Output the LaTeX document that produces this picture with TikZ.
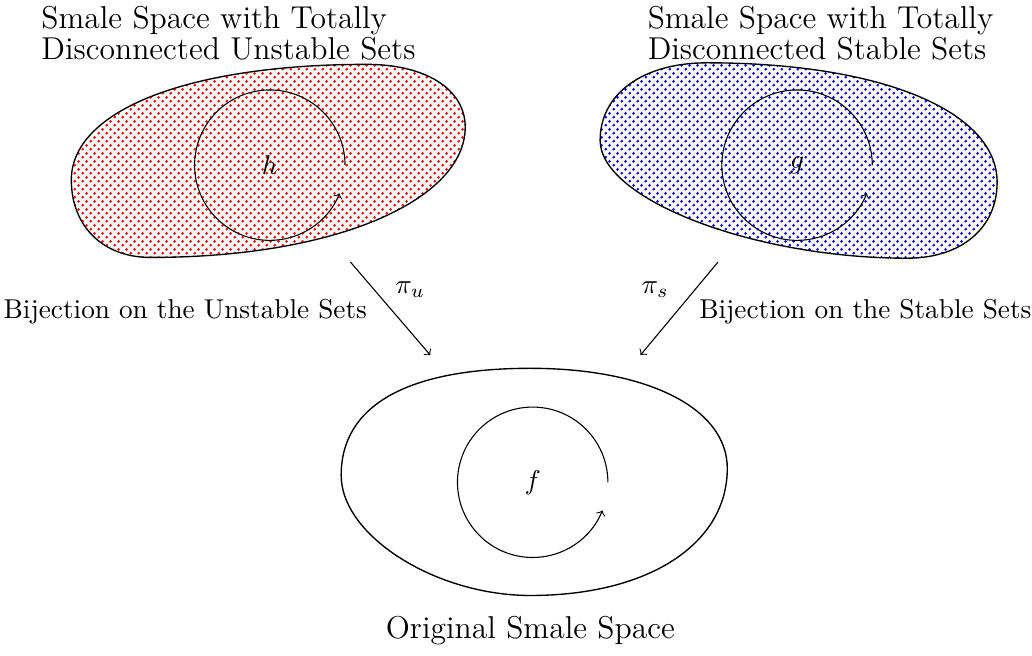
\documentclass[tikz,border=0pt]{standalone}
\usepackage{tikz}
\usetikzlibrary{patterns}
\usepackage{xcolor}

% staggered dots, a bit heavier than crosshatch dots
\pgfdeclarepatternformonly{fatdots}{\pgfqpoint{0pt}{0pt}}{\pgfqpoint{3pt}{3pt}}{\pgfqpoint{3pt}{3pt}}{
  \pgfpathcircle{\pgfqpoint{0.75pt}{0.75pt}}{0.6pt}
  \pgfpathcircle{\pgfqpoint{2.25pt}{2.25pt}}{0.6pt}
  \pgfusepath{fill}
}

\begin{document}
\begin{tikzpicture}
            \tikzstyle{space} = [draw, line width=0.5pt]
            \tikzstyle{title} = [align=left, font=\fontsize{11.6}{11.6}\selectfont]
            \tikzstyle{map} = [draw, ->]
            \useasboundingbox (0,0) rectangle (13.31,-8.45);

            % the two covering spaces
            \path [space, pattern=fatdots, pattern color=red] (0.92,-2.32) .. controls +(0,0.90) and +(-2.29,0) .. (4.73,-0.83) .. controls +(0.76,0) and +(0,0.49) .. (6.00,-1.64) .. controls +(0,-0.92) and +(2.44,0) .. (1.94,-3.32) .. controls +(-0.61,0) and +(0,-0.60) .. (0.92,-2.32) -- cycle;
            \path [space, pattern=fatdots, pattern color=blue] (7.74,-1.81) .. controls +(0,0.60) and +(-0.83,0) .. (9.12,-0.81) .. controls +(2.24,0) and +(0,0.92) .. (12.86,-2.35) .. controls +(0,-0.59) and +(0.70,0) .. (11.70,-3.33) .. controls +(-1.98,0) and +(0,-0.76) .. (7.74,-1.81) -- cycle;
            % the original space
            \path [space] (4.40,-6.13) .. controls +(0,0.90) and +(-1.59,0) .. (6.84,-4.75) .. controls +(1.52,0) and +(0,0.77) .. (9.38,-6.04) .. controls +(0,-0.98) and +(1.52,0) .. (6.84,-7.68) .. controls +(-1.22,0) and +(0,-0.78) .. (4.40,-6.13) -- cycle;

            \node (h) at (3.48,-2.13) {$h$};
            \node (g) at (10.28,-2.13) {$g$};
            \node (f) at (6.87,-6.22) {$f$};
            \draw [->] (h.center) ++(0:0.97) arc (0:338:0.97);
            \draw [->] (g.center) ++(0:0.97) arc (0:338:0.97);
            \draw [->] (f.center) ++(0:0.97) arc (0:338:0.97);

            \node [title, anchor=west] (unst) at (0.41,-0.43) {Smale Space with Totally\\Disconnected Unstable Sets};
            \node [title, anchor=west] (st) at (8.23,-0.43) {Smale Space with Totally\\Disconnected Stable Sets};
            \node [font=\fontsize{11.6}{14}\selectfont] (orig) at (6.84,-8.13) {Original Smale Space};

            \coordinate (u1) at (4.52,-3.38);
            \coordinate (u2) at (5.55,-4.58);
            \coordinate (s1) at (9.26,-3.38);
            \coordinate (s2) at (8.26,-4.58);
            \path [map] (u1) -- (u2);
            \path [map] (s1) -- (s2);
            \node (piu) at (5.29,-3.74) {$\pi_u$};
            \node (pis) at (8.45,-3.74) {$\pi_s$};
            \node (bu) at (2.39,-4.02) {Bijection on the Unstable Sets};
            \node (bs) at (11.16,-4.02) {Bijection on the Stable Sets};
        \end{tikzpicture}
\end{document}
